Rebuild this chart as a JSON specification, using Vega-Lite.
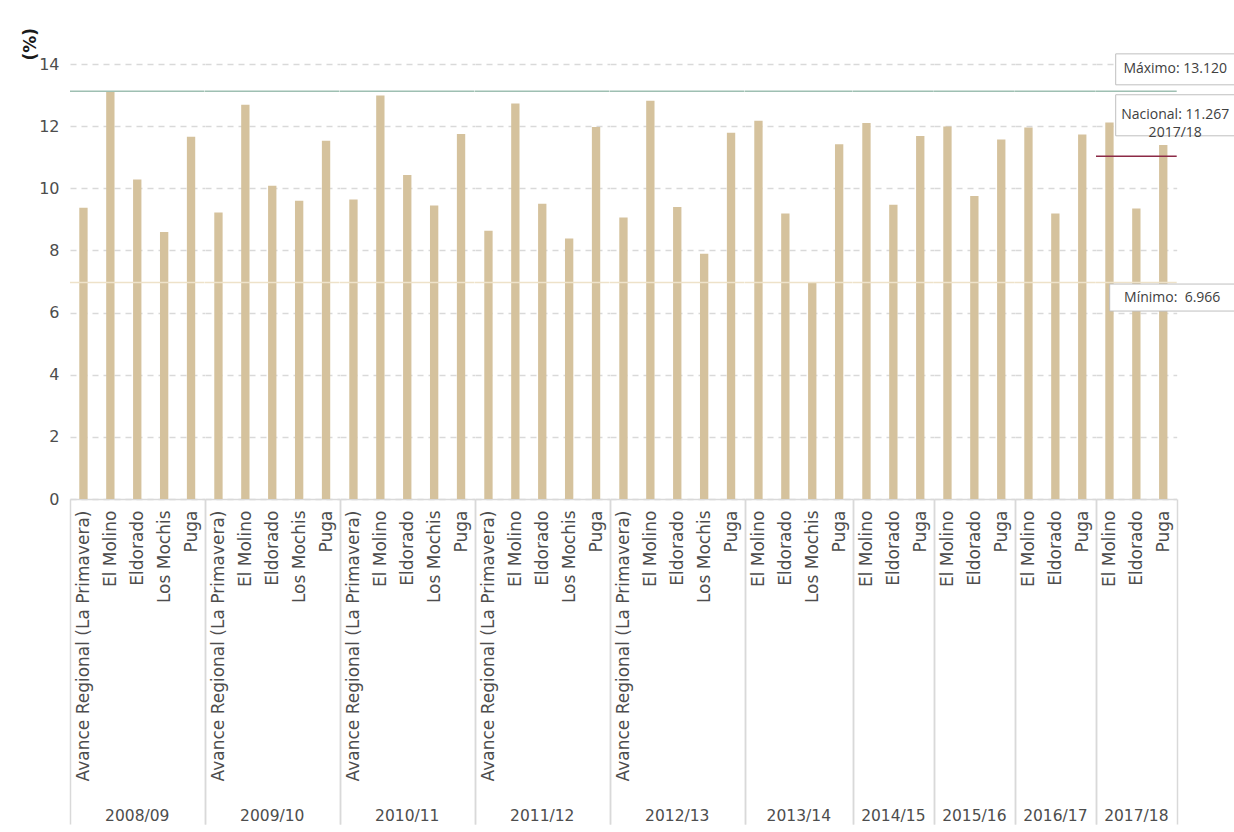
{
  "$schema": "https://vega.github.io/schema/vega-lite/v6.json",
  "padding": {"left": 21, "top": 27, "right": 0, "bottom": 0},
  "background": "white",
  "datasets": {
    "nat": [
      {"year": "2017/18", "nacional": 11.03, "nacLabel": "Nacional: 11.267\n2017/18", "maxLabel": "Máximo: 13.120", "minLabel": "Mínimo: \u00a06.966"}
    ]
  },
  "data": {"values": [
    {"year": "2008/09", "cat": "Avance Regional (La Primavera)", "value": 9.37},
    {"year": "2008/09", "cat": "El Molino", "value": 13.12},
    {"year": "2008/09", "cat": "Eldorado", "value": 10.28},
    {"year": "2008/09", "cat": "Los Mochis", "value": 8.59},
    {"year": "2008/09", "cat": "Puga", "value": 11.66},
    {"year": "2009/10", "cat": "Avance Regional (La Primavera)", "value": 9.22},
    {"year": "2009/10", "cat": "El Molino", "value": 12.69},
    {"year": "2009/10", "cat": "Eldorado", "value": 10.08},
    {"year": "2009/10", "cat": "Los Mochis", "value": 9.60},
    {"year": "2009/10", "cat": "Puga", "value": 11.53},
    {"year": "2010/11", "cat": "Avance Regional (La Primavera)", "value": 9.64},
    {"year": "2010/11", "cat": "El Molino", "value": 12.99},
    {"year": "2010/11", "cat": "Eldorado", "value": 10.43},
    {"year": "2010/11", "cat": "Los Mochis", "value": 9.45},
    {"year": "2010/11", "cat": "Puga", "value": 11.75},
    {"year": "2011/12", "cat": "Avance Regional (La Primavera)", "value": 8.63},
    {"year": "2011/12", "cat": "El Molino", "value": 12.73},
    {"year": "2011/12", "cat": "Eldorado", "value": 9.50},
    {"year": "2011/12", "cat": "Los Mochis", "value": 8.38},
    {"year": "2011/12", "cat": "Puga", "value": 11.97},
    {"year": "2012/13", "cat": "Avance Regional (La Primavera)", "value": 9.06},
    {"year": "2012/13", "cat": "El Molino", "value": 12.82},
    {"year": "2012/13", "cat": "Eldorado", "value": 9.40},
    {"year": "2012/13", "cat": "Los Mochis", "value": 7.89},
    {"year": "2012/13", "cat": "Puga", "value": 11.79},
    {"year": "2013/14", "cat": "El Molino", "value": 12.17},
    {"year": "2013/14", "cat": "Eldorado", "value": 9.19},
    {"year": "2013/14", "cat": "Los Mochis", "value": 6.966},
    {"year": "2013/14", "cat": "Puga", "value": 11.42},
    {"year": "2014/15", "cat": "El Molino", "value": 12.10},
    {"year": "2014/15", "cat": "Eldorado", "value": 9.47},
    {"year": "2014/15", "cat": "Puga", "value": 11.68},
    {"year": "2015/16", "cat": "El Molino", "value": 11.99},
    {"year": "2015/16", "cat": "Eldorado", "value": 9.75},
    {"year": "2015/16", "cat": "Puga", "value": 11.57},
    {"year": "2016/17", "cat": "El Molino", "value": 11.96},
    {"year": "2016/17", "cat": "Eldorado", "value": 9.19},
    {"year": "2016/17", "cat": "Puga", "value": 11.73},
    {"year": "2017/18", "cat": "El Molino", "value": 12.12},
    {"year": "2017/18", "cat": "Eldorado", "value": 9.35},
    {"year": "2017/18", "cat": "Puga", "value": 11.39}
  ]},
  "transform": [
    {"joinaggregate": [{"op": "max", "field": "value", "as": "gmax"}, {"op": "min", "field": "value", "as": "gmin"}]},
    {"lookup": "year", "from": {"data": {"name": "nat"}, "key": "year", "fields": ["nacional", "nacLabel", "maxLabel", "minLabel"]}}
  ],
  "facet": {
    "column": {
      "field": "year", "type": "ordinal",
      "header": {"title": null, "labelOrient": "bottom", "labelFontSize": 15.5, "labelColor": "#4d4d4d", "labelFont": "DejaVu Sans", "labelPadding": 310}
    }
  },
  "spacing": 0,
  "align": "each",
  "bounds": "flush",
  "resolve": {"scale": {"x": "independent"}},
  "spec": {
    "width": {"step": 26.9},
    "height": 435,
    "layer": [
      {
        "mark": {"type": "bar", "color": "#d5c29d", "width": {"band": 0.31}},
        "encoding": {
          "x": {
            "field": "cat", "type": "nominal", "title": null,
            "scale": {"paddingInner": 0, "paddingOuter": 0},
            "axis": {
              "labelAngle": -90, "tickBand": "extent", "tickSize": 325, "tickWidth": 1.5,
              "tickColor": "#d9d9d9",
              "tickOpacity": {"expr": "(datum.index == 1 || datum.extra) ? 1 : 0"},
              "labelPadding": -314, "domainColor": "#d9d9d9", "domainWidth": 1.5,
              "labelFontSize": 17, "labelColor": "#4d4d4d", "labelFont": "DejaVu Sans", "labelLimit": 400
            }
          },
          "y": {
            "field": "value", "type": "quantitative",
            "scale": {"domain": [0, 14]},
            "axis": {
              "values": [0, 2, 4, 6, 8, 10, 12, 14],
              "grid": true, "gridDash": [6, 5], "gridColor": "#d9d9d9", "gridWidth": 1.5,
              "ticks": false, "domain": false,
              "labelFontSize": 16, "labelColor": "#4d4d4d", "labelFont": "DejaVu Sans", "labelPadding": 11,
              "title": "(%)", "titleFontSize": 17, "titleFontWeight": "bold", "titleColor": "#1a1a1a", "titleFont": "DejaVu Sans",
              "titleAngle": -90, "titleAlign": "left", "titleBaseline": "middle", "titleX": -40, "titleY": -4
            }
          }
        }
      },
      {
        "transform": [{"aggregate": [{"op": "max", "field": "gmax", "as": "gmax"}], "groupby": ["year"]}],
        "mark": {"type": "rule", "color": "#9ebfb2", "strokeWidth": 1.5},
        "encoding": {"y": {"field": "gmax", "type": "quantitative"}}
      },
      {
        "transform": [{"aggregate": [{"op": "min", "field": "gmin", "as": "gmin"}], "groupby": ["year"]}],
        "mark": {"type": "rule", "color": "#eee2c9", "strokeWidth": 1.5},
        "encoding": {"y": {"field": "gmin", "type": "quantitative"}}
      },
      {
        "transform": [{"filter": "datum.nacional != null"}, {"aggregate": [{"op": "max", "field": "nacional", "as": "nacional"}], "groupby": ["year", "nacLabel"]}],
        "mark": {"type": "rule", "color": "#8c2a46", "strokeWidth": 1.5},
        "encoding": {"y": {"field": "nacional", "type": "quantitative"}}
      },
      {
        "transform": [{"filter": "datum.maxLabel != null"}, {"aggregate": [{"op": "max", "field": "gmax", "as": "gmax"}], "groupby": ["year", "maxLabel"]}],
        "mark": {"type": "point", "shape": "M-1,-0.26H1V0.26H-1Z", "size": 14161, "filled": true, "fill": "white", "stroke": "#bfbfbf", "strokeWidth": 1, "opacity": 1, "xOffset": -1.5, "yOffset": -22},
        "encoding": {"x": {"value": "width"}, "y": {"field": "gmax", "type": "quantitative"}}
      },
      {
        "transform": [{"filter": "datum.maxLabel != null"}, {"aggregate": [{"op": "max", "field": "gmax", "as": "gmax"}], "groupby": ["year", "maxLabel"]}],
        "mark": {"type": "text", "fontSize": 14, "color": "#404040", "font": "Open Sans", "xOffset": -1.5, "yOffset": -22},
        "encoding": {"x": {"value": "width"}, "y": {"field": "gmax", "type": "quantitative"}, "text": {"field": "maxLabel"}}
      },
      {
        "transform": [{"filter": "datum.nacional != null"}, {"aggregate": [{"op": "max", "field": "nacional", "as": "nacional"}], "groupby": ["year", "nacLabel"]}],
        "mark": {"type": "point", "shape": "M-1,-0.345H1V0.345H-1Z", "size": 14161, "filled": true, "fill": "white", "stroke": "#bfbfbf", "strokeWidth": 1, "opacity": 1, "xOffset": -1.5, "yOffset": -41},
        "encoding": {"x": {"value": "width"}, "y": {"field": "nacional", "type": "quantitative"}}
      },
      {
        "transform": [{"filter": "datum.nacional != null"}, {"aggregate": [{"op": "max", "field": "nacional", "as": "nacional"}], "groupby": ["year", "nacLabel"]}],
        "mark": {"type": "text", "fontSize": 14, "color": "#404040", "font": "Open Sans", "lineBreak": "\n", "lineHeight": 18, "xOffset": -1.5, "yOffset": -41},
        "encoding": {"x": {"value": "width"}, "y": {"field": "nacional", "type": "quantitative"}, "text": {"field": "nacLabel"}}
      },
      {
        "transform": [{"filter": "datum.minLabel != null"}, {"aggregate": [{"op": "min", "field": "gmin", "as": "gmin"}], "groupby": ["year", "minLabel"]}],
        "mark": {"type": "point", "shape": "M-1,-0.216H1V0.216H-1Z", "size": 15625, "filled": true, "fill": "white", "stroke": "#bfbfbf", "strokeWidth": 1, "opacity": 1, "xOffset": -4.5, "yOffset": 15},
        "encoding": {"x": {"value": "width"}, "y": {"field": "gmin", "type": "quantitative"}}
      },
      {
        "transform": [{"filter": "datum.minLabel != null"}, {"aggregate": [{"op": "min", "field": "gmin", "as": "gmin"}], "groupby": ["year", "minLabel"]}],
        "mark": {"type": "text", "fontSize": 14, "color": "#404040", "font": "Open Sans", "xOffset": -4.5, "yOffset": 15},
        "encoding": {"x": {"value": "width"}, "y": {"field": "gmin", "type": "quantitative"}, "text": {"field": "minLabel"}}
      }
    ]
  },
  "config": {
    "view": {"stroke": null},
    "font": "Open Sans"
  }
}
